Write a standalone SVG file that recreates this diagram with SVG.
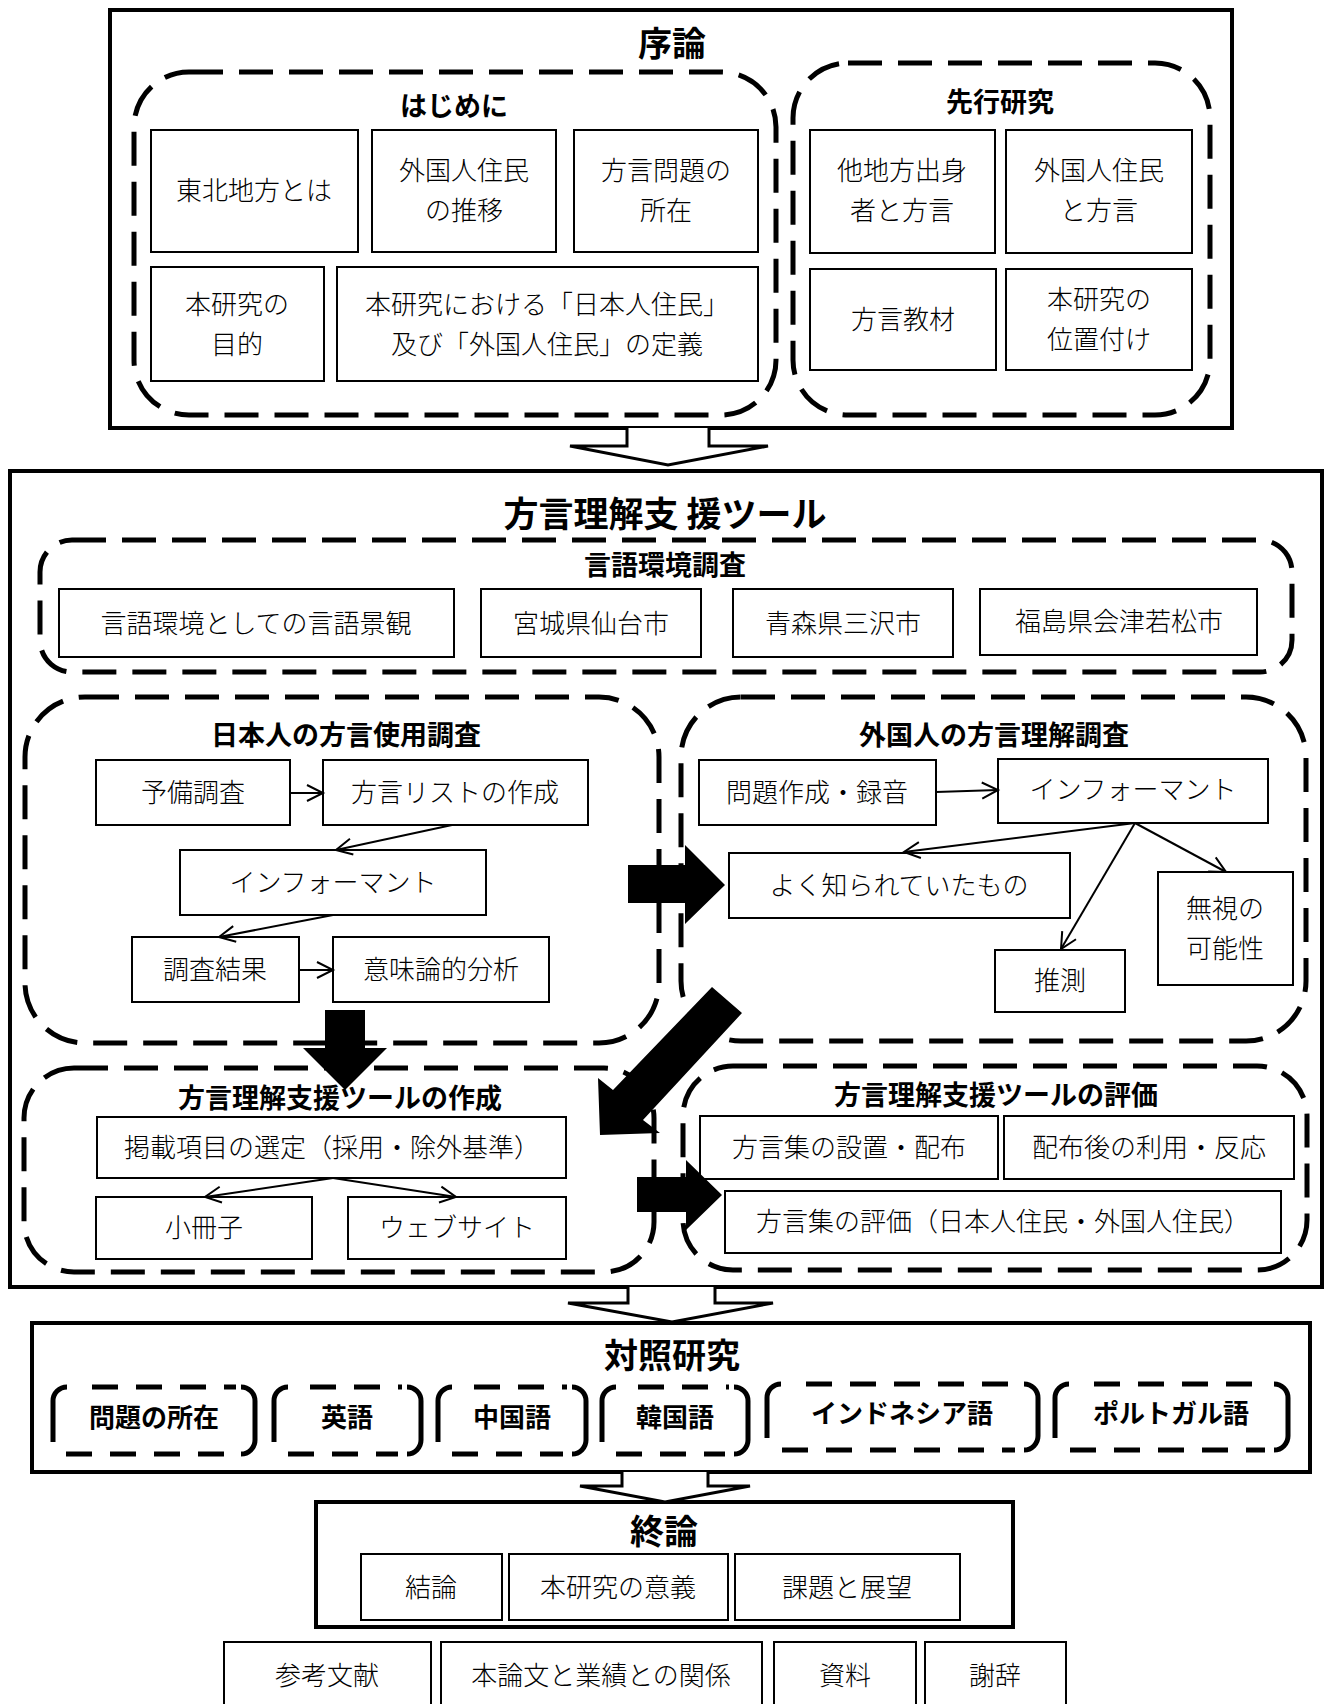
<svg xmlns="http://www.w3.org/2000/svg" width="1327" height="1704" viewBox="0 0 1327 1704">
<style>
text{font-family:"Noto Sans CJK JP","Liberation Sans",sans-serif;fill:#000;text-anchor:middle;dominant-baseline:central;transform:translateY(-3px)}
.t{font-size:26px;font-weight:300}
.h1{font-size:34px;font-weight:bold}
.h2{font-size:27px;font-weight:bold}
.hb{font-size:26px;font-weight:bold}
.outer{fill:none;stroke:#000;stroke-width:4}
.box{fill:#fff;stroke:#000;stroke-width:2}
.dash{fill:none;stroke:#000;stroke-width:5;stroke-dasharray:34 16}
.brk{fill:none;stroke:#000;stroke-width:5}
.brkd{fill:none;stroke:#000;stroke-width:5;stroke-dasharray:26 18}
.conn{fill:none;stroke:#000;stroke-width:2}
.hollow{fill:#fff;stroke:#000;stroke-width:3;stroke-linejoin:miter}
.solid{fill:#000;stroke:none}
</style>
<defs>
<marker id="open" markerWidth="18" markerHeight="18" refX="16" refY="8" orient="auto" markerUnits="userSpaceOnUse" overflow="visible">
<path d="M0,0 L16,8 L0,16" fill="none" stroke="#000" stroke-width="2"/>
</marker>
</defs>
<rect x="0" y="0" width="1327" height="1704" fill="#fff"/>

<!-- Section 1 -->
<g id="sec-joron">
<rect class="outer" x="110" y="10" width="1122" height="418"/>
<text class="h1" x="672" y="44">序論</text>
</g>
<g id="hajimeni">
<rect class="dash" x="134" y="72" width="642" height="343" rx="55"/>
<text class="h2" x="454" y="107">はじめに</text>
</g>
<g id="n-tohoku"><rect class="box" x="151" y="130" width="207" height="122"/><text class="t" x="254" y="191">東北地方とは</text></g>
<g id="n-suii"><rect class="box" x="372" y="130" width="184" height="122"/><text class="t" x="464" y="171">外国人住民</text><text class="t" x="464" y="211">の推移</text></g>
<g id="n-shozai"><rect class="box" x="574" y="130" width="184" height="122"/><text class="t" x="666" y="171">方言問題の</text><text class="t" x="666" y="211">所在</text></g>
<g id="n-mokuteki"><rect class="box" x="151" y="267" width="173" height="114"/><text class="t" x="237" y="305">本研究の</text><text class="t" x="237" y="345">目的</text></g>
<g id="n-teigi"><rect class="box" x="337" y="267" width="421" height="114"/><text class="t" x="547" y="305">本研究における「日本人住民」</text><text class="t" x="547" y="345">及び「外国人住民」の定義</text></g>

<g id="senko">
<rect class="dash" x="793" y="63" width="417" height="352" rx="55"/>
<text class="h2" x="1000" y="103">先行研究</text>
</g>
<g id="n-tachiho"><rect class="box" x="810" y="130" width="185" height="123"/><text class="t" x="902" y="171">他地方出身</text><text class="t" x="902" y="211">者と方言</text></g>
<g id="n-gaikoku"><rect class="box" x="1006" y="130" width="186" height="123"/><text class="t" x="1099" y="171">外国人住民</text><text class="t" x="1099" y="211">と方言</text></g>
<g id="n-kyozai"><rect class="box" x="810" y="269" width="186" height="101"/><text class="t" x="903" y="320">方言教材</text></g>
<g id="n-ichi"><rect class="box" x="1006" y="269" width="186" height="101"/><text class="t" x="1099" y="300">本研究の</text><text class="t" x="1099" y="340">位置付け</text></g>

<!-- Section 2 -->
<g id="sec-tool">
<rect class="outer" x="10" y="471" width="1312" height="816"/>
<text class="h1" x="665" y="514" style="font-size:35px">方言理解支 援ツール</text>
</g>
<g id="gengo">
<rect class="dash" x="40" y="540" width="1252" height="132" rx="32"/>
<text class="h2" x="665" y="566">言語環境調査</text>
</g>
<g id="n-keikan"><rect class="box" x="59" y="589" width="395" height="68"/><text class="t" x="256" y="624">言語環境としての言語景観</text></g>
<g id="n-sendai"><rect class="box" x="481" y="589" width="220" height="68"/><text class="t" x="591" y="624">宮城県仙台市</text></g>
<g id="n-misawa"><rect class="box" x="733" y="589" width="220" height="68"/><text class="t" x="843" y="624">青森県三沢市</text></g>
<g id="n-aizu"><rect class="box" x="980" y="589" width="277" height="66"/><text class="t" x="1119" y="622">福島県会津若松市</text></g>

<g id="nihonjin">
<rect class="dash" x="25" y="697" width="634" height="346" rx="60"/>
<text class="h2" x="346" y="736">日本人の方言使用調査</text>
</g>
<g id="n-yobi"><rect class="box" x="96" y="760" width="194" height="65"/><text class="t" x="193" y="793">予備調査</text></g>
<g id="n-list"><rect class="box" x="323" y="760" width="265" height="65"/><text class="t" x="455" y="793">方言リストの作成</text></g>
<g id="n-info1"><rect class="box" x="180" y="850" width="306" height="65"/><text class="t" x="333" y="883">インフォーマント</text></g>
<g id="n-kekka"><rect class="box" x="132" y="937" width="167" height="65"/><text class="t" x="215" y="970">調査結果</text></g>
<g id="n-imiron"><rect class="box" x="333" y="937" width="216" height="65"/><text class="t" x="441" y="970">意味論的分析</text></g>

<g id="gaikokujin">
<rect class="dash" x="681" y="697" width="625" height="344" rx="60"/>
<text class="h2" x="994" y="736">外国人の方言理解調査</text>
</g>
<g id="n-mondai"><rect class="box" x="699" y="760" width="237" height="65"/><text class="t" x="817" y="793">問題作成・録音</text></g>
<g id="n-info2"><rect class="box" x="998" y="759" width="270" height="64"/><text class="t" x="1133" y="790">インフォーマント</text></g>
<g id="n-yoku"><rect class="box" x="729" y="853" width="341" height="65"/><text class="t" x="899" y="886">よく知られていたもの</text></g>
<g id="n-mushi"><rect class="box" x="1158" y="872" width="135" height="113"/><text class="t" x="1225" y="909">無視の</text><text class="t" x="1225" y="949">可能性</text></g>
<g id="n-suisoku"><rect class="box" x="995" y="950" width="130" height="62"/><text class="t" x="1060" y="981">推測</text></g>

<g id="sakusei">
<rect class="dash" x="24" y="1068" width="630" height="204" rx="50"/>
<text class="h2" x="340" y="1099">方言理解支援ツールの作成</text>
</g>
<g id="n-keisai"><rect class="box" x="97" y="1117" width="469" height="61"/><text class="t" x="332" y="1148">掲載項目の選定（採用・除外基準）</text></g>
<g id="n-sasshi"><rect class="box" x="96" y="1197" width="216" height="62"/><text class="t" x="204" y="1228">小冊子</text></g>
<g id="n-web"><rect class="box" x="348" y="1197" width="218" height="62"/><text class="t" x="457" y="1228">ウェブサイト</text></g>

<g id="hyoka">
<rect class="dash" x="683" y="1066" width="624" height="204" rx="50"/>
<text class="h2" x="996" y="1096">方言理解支援ツールの評価</text>
</g>
<g id="n-setchi"><rect class="box" x="700" y="1116" width="298" height="63"/><text class="t" x="849" y="1148">方言集の設置・配布</text></g>
<g id="n-riyo"><rect class="box" x="1004" y="1116" width="290" height="63"/><text class="t" x="1149" y="1148">配布後の利用・反応</text></g>
<g id="n-hyokashu"><rect class="box" x="725" y="1191" width="556" height="62"/><text class="t" x="1003" y="1222">方言集の評価（日本人住民・外国人住民）</text></g>

<!-- Section 3 -->
<g id="sec-taisho">
<rect class="outer" x="32" y="1323" width="1278" height="149"/>
<text class="h1" x="672" y="1356">対照研究</text>
</g>
<g id="b-mondai">
<path class="brk" d="M67,1387 A14,14 0 0 0 53,1401 V1442"/>
<path class="brk" d="M241,1387 A14,14 0 0 1 255,1401 V1440 A14,14 0 0 1 241,1454"/>
<path class="brkd" d="M92,1387 H236"/><path class="brkd" d="M66,1454 H232"/>
<text class="hb" x="154" y="1418">問題の所在</text>
</g>
<g id="b-eigo">
<path class="brk" d="M288,1387 A14,14 0 0 0 274,1401 V1442"/>
<path class="brk" d="M407,1387 A14,14 0 0 1 421,1401 V1440 A14,14 0 0 1 407,1454"/>
<path class="brkd" d="M310,1387 H402"/><path class="brkd" d="M288,1454 H398"/>
<text class="hb" x="347" y="1418">英語</text>
</g>
<g id="b-chugoku">
<path class="brk" d="M452,1387 A14,14 0 0 0 438,1401 V1442"/>
<path class="brk" d="M572,1387 A14,14 0 0 1 586,1401 V1440 A14,14 0 0 1 572,1454"/>
<path class="brkd" d="M474,1387 H567"/><path class="brkd" d="M452,1454 H563"/>
<text class="hb" x="512" y="1418">中国語</text>
</g>
<g id="b-kankoku">
<path class="brk" d="M616,1387 A14,14 0 0 0 602,1401 V1442"/>
<path class="brk" d="M734,1387 A14,14 0 0 1 748,1401 V1440 A14,14 0 0 1 734,1454"/>
<path class="brkd" d="M638,1387 H729"/><path class="brkd" d="M616,1454 H725"/>
<text class="hb" x="675" y="1418">韓国語</text>
</g>
<g id="b-indo">
<path class="brk" d="M781,1384 A14,14 0 0 0 767,1398 V1438"/>
<path class="brk" d="M1024,1384 A14,14 0 0 1 1038,1398 V1436 A14,14 0 0 1 1024,1450"/>
<path class="brkd" d="M806,1384 H1019"/><path class="brkd" d="M782,1450 H1015"/>
<text class="hb" x="902" y="1414">インドネシア語</text>
</g>
<g id="b-porto">
<path class="brk" d="M1069,1384 A14,14 0 0 0 1055,1398 V1438"/>
<path class="brk" d="M1274,1384 A14,14 0 0 1 1288,1398 V1436 A14,14 0 0 1 1274,1450"/>
<path class="brkd" d="M1094,1384 H1269"/><path class="brkd" d="M1070,1450 H1265"/>
<text class="hb" x="1171" y="1414">ポルトガル語</text>
</g>

<!-- Section 4 -->
<g id="sec-shuron">
<rect class="outer" x="316" y="1502" width="697" height="125"/>
<text class="h1" x="664" y="1532">終論</text>
</g>
<g id="n-ketsuron"><rect class="box" x="361" y="1554" width="141" height="66"/><text class="t" x="431" y="1588">結論</text></g>
<g id="n-igi"><rect class="box" x="509" y="1554" width="219" height="66"/><text class="t" x="618" y="1588">本研究の意義</text></g>
<g id="n-kadai"><rect class="box" x="735" y="1554" width="225" height="66"/><text class="t" x="847" y="1588">課題と展望</text></g>

<g id="n-sanko"><rect class="box" x="224" y="1642" width="207" height="80"/><text class="t" x="327" y="1676">参考文献</text></g>
<g id="n-gyoseki"><rect class="box" x="441" y="1642" width="321" height="80"/><text class="t" x="601" y="1676">本論文と業績との関係</text></g>
<g id="n-shiryo"><rect class="box" x="774" y="1642" width="142" height="80"/><text class="t" x="845" y="1676">資料</text></g>
<g id="n-shaji"><rect class="box" x="925" y="1642" width="141" height="80"/><text class="t" x="995" y="1676">謝辞</text></g>

<!-- Connectors -->
<g id="connectors">
<polyline class="hollow" points="627,428 627,446 570,446 668,465 768,446 709,446 709,428"/>
<polyline class="hollow" points="628,1287 628,1303 568,1303 672,1322 773,1303 715,1303 715,1287"/>
<polyline class="hollow" points="622,1472 622,1486 580,1486 665,1502 750,1486 708,1486 708,1472"/>

<line class="conn" x1="290" y1="793" x2="323" y2="793" marker-end="url(#open)"/>
<line class="conn" x1="452" y1="825" x2="336" y2="850" marker-end="url(#open)"/>
<line class="conn" x1="333" y1="915" x2="219" y2="937" marker-end="url(#open)"/>
<line class="conn" x1="299" y1="970" x2="333" y2="970" marker-end="url(#open)"/>

<line class="conn" x1="936" y1="792" x2="998" y2="790" marker-end="url(#open)"/>
<line class="conn" x1="1135" y1="823" x2="904" y2="852" marker-end="url(#open)"/>
<line class="conn" x1="1135" y1="823" x2="1061" y2="949" marker-end="url(#open)"/>
<line class="conn" x1="1135" y1="823" x2="1226" y2="872" marker-end="url(#open)"/>

<line class="conn" x1="333" y1="1178" x2="205" y2="1197" marker-end="url(#open)"/>
<line class="conn" x1="333" y1="1178" x2="456" y2="1197" marker-end="url(#open)"/>

<polygon class="solid" points="628,865 685,865 685,845 725,885 685,924 685,903 628,903"/>
<polygon class="solid" points="325,1010 365,1010 365,1048 387,1048 345,1090 303,1048 325,1048"/>
<polygon class="solid" points="712,987 742,1013 643,1120 660,1133 600,1135 598,1078 613,1090"/>
<polygon class="solid" points="637,1177 686,1177 686,1160 722,1195 686,1230 686,1212 637,1212"/>
</g>
</svg>
